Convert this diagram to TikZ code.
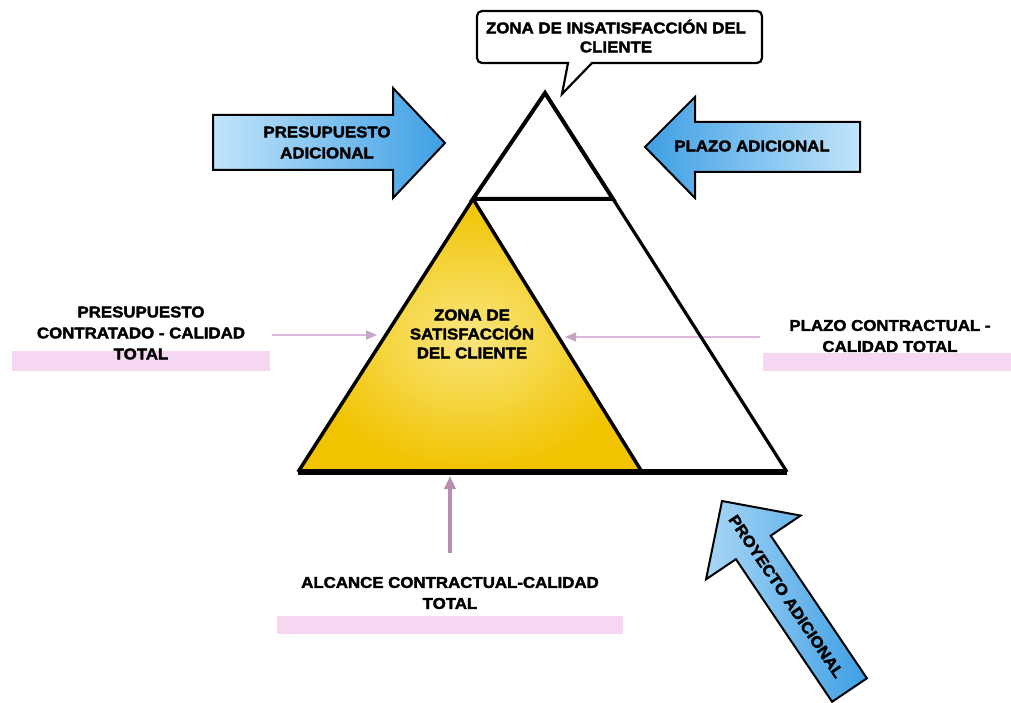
\documentclass[tikz,border=0pt]{standalone}
\usepackage{fontspec}
\usetikzlibrary{arrows.meta}
\newfontfamily\lblfont{Liberation Sans}[FakeStretch=1.08, FakeBold=2.2]

\definecolor{blueLight}{HTML}{C2E4FA}
\definecolor{blueDark}{HTML}{3E9FE4}
\definecolor{yellowOuter}{HTML}{F1C300}
\definecolor{yellowInner}{HTML}{F9E67E}
\definecolor{pinkLine}{HTML}{DDB6DD}
\definecolor{pinkTip}{HTML}{C6A6C2}
\definecolor{mauve}{HTML}{B98EB2}
\definecolor{pinkBar}{HTML}{F6D7F1}

\tikzset{
  lbl/.style={font={\lblfont\bfseries\fontsize{15.6}{21}\selectfont}, align=center, inner sep=0pt},
  lbltight/.style={lbl, font={\lblfont\bfseries\fontsize{15.6}{19}\selectfont}},
  bluearrow/.style={draw=black, line width=2pt, line join=miter},
  guide/.style={draw=pinkLine, line width=2pt, -{Triangle[length=11pt,width=9pt,color=pinkTip]}},
  guideup/.style={draw=mauve, line width=3.5pt, -{Triangle[length=13pt,width=11pt,color=mauve]}},
  bar/.style={fill=pinkBar, draw=none},
}

\begin{document}
\begin{tikzpicture}[x=1pt, y=-1pt]
\useasboundingbox[fill=white] (0,0) rectangle (1011,703);

% corner points of the pyramid
\coordinate (apex) at (545,93);
\coordinate (tl) at (473,199);
\coordinate (tr) at (613,199);
\coordinate (bl) at (298,472);
\coordinate (ym) at (642,472);
\coordinate (br) at (787,472);

% soft pink bands under the side labels
\path[bar] (12,351) rectangle (270,371);
\path[bar] (763,353) rectangle (1011,371);
\path[bar] (277,616) rectangle (623,634);

% satisfaction zone
\shade[inner color=yellowInner, outer color=yellowOuter] (tl) -- (bl) -- (ym) -- cycle;

% guide arrows pointing at the pyramid
\coordinate (gl0) at (272,335);
\coordinate (gl1) at (377,335);
\coordinate (gr0) at (760,337);
\coordinate (gr1) at (565,337);
\coordinate (gb0) at (450,553);
\coordinate (gb1) at (450,476);
\draw[guide] (gl0) -- (gl1);
\draw[guide] (gr0) -- (gr1);
\draw[guideup] (gb0) -- (gb1);

% pyramid outlines
\draw[line width=4pt, line join=miter] (apex) -- (tl) -- (tr) -- cycle;
\draw[line width=3.5pt, line join=miter] (ym) -- (tl) -- (bl);
\draw[line width=3.2pt] (tr) -- (br);
\draw[line width=5.5pt] (bl) -- (br);

% callout above the apex
\draw[line width=2.2pt, fill=white, line join=miter]
  (562,94) -- (568,63) {[rounded corners=5pt] -- (477,63) -- (477,11) -- (762,11) -- (762,63)} -- (592,63) -- cycle;

% horizontal blue arrows
\path[bluearrow, left color=blueLight, right color=blueDark]
  (213,115) -- (393,115) -- (393,88) -- (445,143) -- (393,198) -- (393,170) -- (213,170) -- cycle;
\path[bluearrow, right color=blueLight, left color=blueDark]
  (645,147) -- (695,97) -- (695,122) -- (860,122) -- (860,172) -- (695,172) -- (695,198) -- cycle;

% diagonal blue arrow
\begin{scope}[shift={(722,501)}, rotate=-56]
  \path[bluearrow, left color=blueLight!80!blueDark, right color=blueDark]
    (0,0) -- (56,57) -- (56,21) -- (228,21) -- (228,-21) -- (56,-21) -- (56,-57) -- cycle;
  \node[lbl, rotate=-56] (proy) at (115,0) {PROYECTO ADICIONAL};
\end{scope}

% labels
\node[lbltight] (insat) at (616,36) {ZONA DE INSATISFACCIÓN DEL\\CLIENTE};
\node[lbl] (presad) at (327,142.5) {PRESUPUESTO\\ADICIONAL};
\node[lbl] (plazad) at (752,146) {PLAZO ADICIONAL};
\node[lbltight] (satis) at (472,334) {ZONA DE\\SATISFACCIÓN\\DEL CLIENTE};
\node[lbl] (prescon) at (141,333) {PRESUPUESTO\\CONTRATADO - CALIDAD\\TOTAL};
\node[lbl] (plazcon) at (890,336) {PLAZO CONTRACTUAL -\\CALIDAD TOTAL};
\node[lbl] (alcance) at (450,593) {ALCANCE CONTRACTUAL-CALIDAD\\TOTAL};
\end{tikzpicture}
\end{document}
